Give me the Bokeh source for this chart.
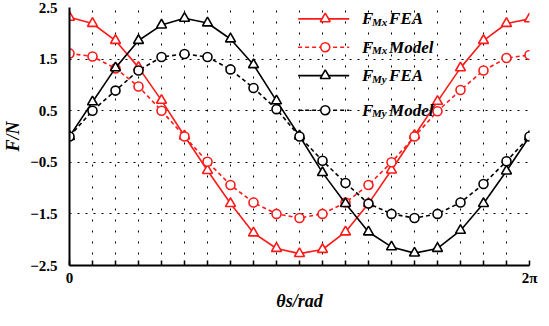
import math
from bokeh.plotting import figure
from bokeh.models import FixedTicker, CustomJSTickFormatter, Range1d, Title
from bokeh.core.properties import value
from bokeh.embed import file_html
from bokeh.resources import INLINE

# ---- data ----
steps = list(range(21))                       # 20 equal steps over one electrical period
theta = [s * 2 * math.pi / 20 for s in steps]
fmx_fea = [2.31, 2.19, 1.86, 1.34, 0.70, 0.01, -0.66, -1.30, -1.87, -2.17, -2.27,
           -2.19, -1.85, -1.30, -0.65, 0.02, 0.68, 1.33, 1.86, 2.19, 2.28]
fmx_model = [1.61, 1.55, 1.32, 0.97, 0.50, 0.00, -0.49, -0.94, -1.28, -1.50, -1.58,
             -1.50, -1.28, -0.94, -0.50, 0.00, 0.49, 0.90, 1.28, 1.52, 1.58]
fmy_fea = [0.00, 0.67, 1.33, 1.86, 2.16, 2.29, 2.20, 1.89, 1.39, 0.69, 0.01,
           -0.70, -1.30, -1.85, -2.14, -2.26, -2.17, -1.82, -1.30, -0.67, 0.00]
fmy_model = [0.00, 0.50, 0.89, 1.28, 1.54, 1.60, 1.54, 1.30, 0.94, 0.53, 0.00,
             -0.47, -0.90, -1.30, -1.50, -1.58, -1.50, -1.28, -0.92, -0.48, 0.00]
y_ticks = [2.5, 1.5, 0.5, -0.5, -1.5, -2.5]
legend_sub = ["Mx", "Mx", "My", "My"]
legend_word = ["FEA", "Model", "FEA", "Model"]
x_title = "\u03b8s/rad"
y_title = "F/N"

RED = "#ff1a1a"
FNAME = "'Liberation Serif', 'Times New Roman', serif"
FONT = value(FNAME)

p = figure(width=541, height=310, output_backend="svg", toolbar_location=None,
           x_range=Range1d(0, 2 * math.pi), y_range=Range1d(-2.5, 2.5),
           min_border_left=60, min_border_right=12, min_border_top=7, min_border_bottom=0)
p.outline_line_color = None
p.background_fill_color = "white"

# axes
p.xaxis.ticker = FixedTicker(ticks=theta)
p.xaxis.formatter = CustomJSTickFormatter(code="""
    if (Math.abs(tick) < 1e-6) return "0";
    if (Math.abs(tick - 2*Math.PI) < 1e-6) return "2\u03c0";
    return "";
""")
p.yaxis.ticker = FixedTicker(ticks=y_ticks)
for ax in (p.xaxis[0], p.yaxis[0]):
    ax.axis_line_width = 2
    ax.axis_line_color = "black"
    ax.major_label_text_font = FNAME
    ax.major_label_text_font_style = "bold"
    ax.major_label_text_font_size = "15px"
    ax.major_label_text_color = "black"
    ax.axis_label_text_font = FNAME
    ax.axis_label_text_font_style = "bold italic"
    ax.axis_label_text_font_size = "18px"
    ax.axis_label_text_color = "black"
    ax.minor_tick_line_color = None
p.xaxis.major_tick_in = 5
p.xaxis.major_tick_out = 0
p.xaxis.major_tick_line_width = 1.5
p.xaxis.major_label_standoff = 4
p.yaxis.major_tick_in = 0
p.yaxis.major_tick_out = 0
p.yaxis.major_label_standoff = 12
p.yaxis.axis_label = y_title
p.yaxis.axis_label_standoff = 4

# x-axis title as a title panel below the axis
p.add_layout(Title(text=x_title, align="center", text_font=FNAME,
                   text_font_style="bold italic", text_font_size="18px",
                   text_color="black", standoff=0, offset=0), "below")

# grid
p.xgrid.ticker = FixedTicker(ticks=theta)
p.ygrid.ticker = FixedTicker(ticks=y_ticks)
p.xgrid.grid_line_color = "black"
p.xgrid.grid_line_dash = "2 9"
p.xgrid.grid_line_width = 1
p.ygrid.grid_line_color = "black"
p.ygrid.grid_line_dash = "2 6"
p.ygrid.grid_line_width = 1

# series
series = [
    (fmx_fea, RED, "solid", "triangle"),
    (fmx_model, RED, "4 3", "circle"),
    (fmy_fea, "black", "solid", "triangle"),
    (fmy_model, "black", "4 3", "circle"),
]
for ys, col, dash, mk in series:
    p.line(theta, ys, line_color=col, line_width=1.6, line_dash=dash)
    p.scatter(theta, ys, marker=mk, size=10 if mk == "triangle" else 9,
              line_color=col, line_width=1.6, fill_color="white")

# manual legend (positions as fractions of the frame)
W = 2 * math.pi
leg_y = [2.28, 1.73, 1.18, 0.51]
x0, x1, xm, xt = 0.497 * W, 0.608 * W, 0.556 * W, 0.636 * W
for (ys, col, dash, mk), ly, sub, word in zip(series, leg_y, legend_sub, legend_word):
    p.line([x0, x1], [ly, ly], line_color=col, line_width=1.6, line_dash=dash)
    p.scatter([xm], [ly], marker=mk, size=10 if mk == "triangle" else 9,
              line_color=col, line_width=1.6, fill_color="white")
    p.text([xt], [ly], text=["F"], text_font=FONT, text_font_style="bold italic",
           text_font_size="17px", text_baseline="middle", text_align="left", text_color="black")
    p.text([xt], [ly], text=[sub], text_font=FONT, text_font_style="bold italic",
           text_font_size="11px", text_baseline="middle", text_align="left", text_color="black",
           x_offset=10, y_offset=3)
    p.text([xt], [ly], text=[word], text_font=FONT, text_font_style="bold italic",
           text_font_size="17px", text_baseline="middle", text_align="left", text_color="black",
           x_offset=27)

open("out.html", "w").write(file_html(p, INLINE))
